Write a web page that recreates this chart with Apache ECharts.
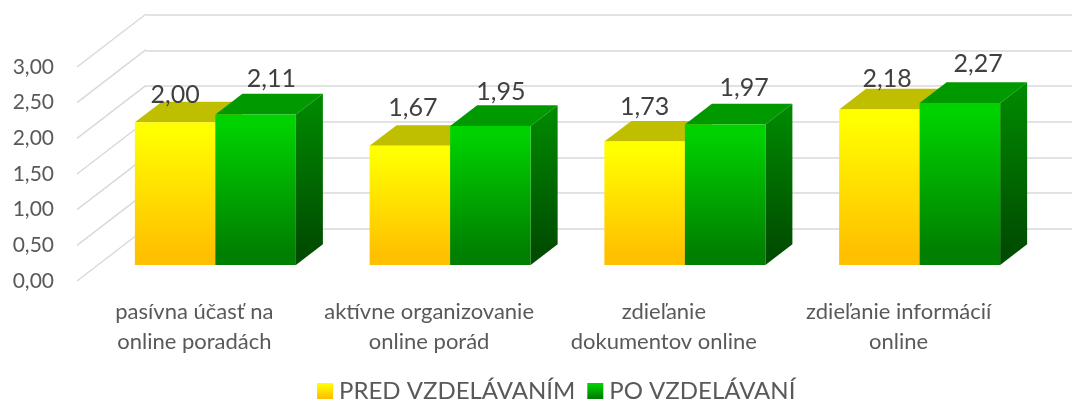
<!DOCTYPE html>
<html lang="sk">
<head>
    <meta charset="UTF-8">
    <title>Pred a po vzdelávaní</title>
    <script src="https://cdn.jsdelivr.net/npm/echarts@6/dist/echarts.min.js"></script>
    <style>
        html, body { margin: 0; padding: 0; background: #fff; }
    </style>
</head>
<body>
<div id="main" style="width: 1072px; height: 400px;"></div>
<script>
    var categories = [
        'pasívna účasť na\nonline poradách',
        'aktívne organizovanie\nonline porád',
        'zdieľanie\ndokumentov online',
        'zdieľanie informácií\nonline'
    ];
    var seriesNames = ['PRED VZDELÁVANÍM', 'PO VZDELÁVANÍ'];
    var predValues = [2.00, 1.67, 1.73, 2.18];
    var poValues = [2.11, 1.95, 1.97, 2.27];
    var yTicks = [0, 0.5, 1, 1.5, 2, 2.5, 3];

    var FONT = 'Lato, "Noto Sans", sans-serif';
    var WALL_DX = 69, WALL_DY = -53;    // front plane -> back wall
    var BAR_DX = 27, BAR_DY = -20.7;    // depth of one bar
    var BAR_RATIO = 0.343;              // bar width / category width

    // hand placed data labels in the original, offset from centre of the bar front top
    var predLabelShift = [[0, -27.7], [3, -37.6], [0, -35], [7.7, -30.5]];
    var poLabelShift = [[15.7, -35.2], [10.5, -34.3], [19, -36.8], [18.3, -39.6]];

    function grad(c0, c1) {
        return new echarts.graphic.LinearGradient(0, 0, 0, 1, [
            {offset: 0, color: c0},
            {offset: 0.06, color: c0},
            {offset: 0.92, color: c1},
            {offset: 1, color: c1}
        ]);
    }

    function fmt(v) {
        return v.toFixed(2).replace('.', ',');
    }

    function barRenderer(side, topColor, frontFill, sideFill, shifts) {
        return function (params, api) {
            var i = api.value(0);
            var v = api.value(1);
            var top = api.coord([i, v]);
            var base = api.coord([i, 0]);
            var w = api.size([1, 0])[0] * BAR_RATIO;
            var x0 = side === 0 ? top[0] - w : top[0];
            var x1 = x0 + w;
            var shift = shifts[params.dataIndex];
            return {
                type: 'group',
                children: [
                    {
                        type: 'polygon',
                        shape: {points: [[x0, top[1]], [x1, top[1]], [x1 + BAR_DX, top[1] + BAR_DY], [x0 + BAR_DX, top[1] + BAR_DY]]},
                        style: {fill: topColor}
                    },
                    {
                        type: 'polygon',
                        shape: {points: [[x1, top[1]], [x1 + BAR_DX, top[1] + BAR_DY], [x1 + BAR_DX, base[1] + BAR_DY], [x1, base[1]]]},
                        style: {fill: sideFill}
                    },
                    {
                        type: 'rect',
                        shape: {x: x0, y: top[1], width: w, height: base[1] - top[1]},
                        style: {fill: frontFill}
                    },
                    {
                        type: 'text',
                        z2: 10,
                        style: {
                            text: fmt(v),
                            x: (x0 + x1) / 2 + shift[0],
                            y: top[1] + shift[1],
                            align: 'center',
                            verticalAlign: 'middle',
                            fill: '#404040',
                            font: '25px ' + FONT
                        }
                    }
                ]
            };
        };
    }

    var yellowFront = grad('#FFFF00', '#FFC000');
    var greenFront = grad('#00D200', '#007F00');

    var myCharts = echarts.init(document.getElementById('main'));
    var option = {
        animation: false,
        legend: {
            left: 312,
            top: 374,
            itemWidth: 16,
            itemHeight: 16,
            itemGap: 12,
            icon: 'rect',
            textStyle: {fontFamily: FONT, fontSize: 24, color: '#595959', padding: [0, 0, 0, 1]},
            data: [
                {name: seriesNames[0], itemStyle: {color: yellowFront}},
                {name: seriesNames[1], itemStyle: {color: greenFront}}
            ]
        },
        grid: [
            // back wall
            {left: 146, right: 0, top: 14.7, height: 214},
            // front plane, carries the axis labels
            {left: 77, width: 939, top: 67, height: 214},
            // plane of the bar fronts
            {left: 98, width: 939, top: 51, height: 214}
        ],
        xAxis: [
            {gridIndex: 0, type: 'value', show: false},
            {
                gridIndex: 1,
                type: 'category',
                data: categories,
                axisLine: {show: false},
                axisTick: {show: false},
                axisLabel: {
                    interval: 0,
                    margin: 16,
                    fontFamily: FONT,
                    fontSize: 22,
                    lineHeight: 30,
                    color: '#595959'
                }
            },
            {gridIndex: 2, type: 'category', data: categories, show: false}
        ],
        yAxis: [
            {
                gridIndex: 0,
                type: 'value',
                min: 0,
                max: 3,
                interval: 0.5,
                axisLine: {show: false},
                axisTick: {show: false},
                axisLabel: {show: false},
                splitLine: {lineStyle: {color: '#D9D9D9', width: 1.5}}
            },
            {
                gridIndex: 1,
                type: 'value',
                min: 0,
                max: 3,
                interval: 0.5,
                axisLine: {show: false},
                axisTick: {show: false},
                splitLine: {show: false},
                axisLabel: {
                    margin: 23,
                    fontFamily: FONT,
                    fontSize: 21,
                    color: '#595959',
                    formatter: fmt
                }
            },
            {gridIndex: 2, type: 'value', min: 0, max: 3, interval: 0.5, show: false}
        ],
        series: [
            {
                // slanted wall lines, front plane to back wall
                type: 'custom',
                xAxisIndex: 1,
                yAxisIndex: 1,
                silent: true,
                z: 1,
                data: yTicks.map(function (v) { return [0, v]; }),
                renderItem: function (params, api) {
                    var y = api.coord([0, api.value(1)])[1];
                    var x = params.coordSys.x;
                    return {
                        type: 'line',
                        shape: {x1: x, y1: y, x2: x + WALL_DX, y2: y + WALL_DY},
                        style: {stroke: '#D9D9D9', lineWidth: 1.5}
                    };
                }
            },
            {
                name: seriesNames[0],
                type: 'custom',
                xAxisIndex: 2,
                yAxisIndex: 2,
                z: 2,
                itemStyle: {color: '#FFC000'},
                encode: {x: 0, y: 1},
                data: predValues.map(function (v, i) { return [i, v]; }),
                renderItem: barRenderer(0, '#BFBF00', yellowFront, '#BFBF00', predLabelShift)
            },
            {
                name: seriesNames[1],
                type: 'custom',
                xAxisIndex: 2,
                yAxisIndex: 2,
                z: 3,
                itemStyle: {color: '#009900'},
                encode: {x: 0, y: 1},
                data: poValues.map(function (v, i) { return [i, v]; }),
                renderItem: barRenderer(1, '#009900', greenFront, grad('#008800', '#004C00'), poLabelShift)
            }
        ]
    };
    myCharts.setOption(option);
</script>
</body>
</html>
